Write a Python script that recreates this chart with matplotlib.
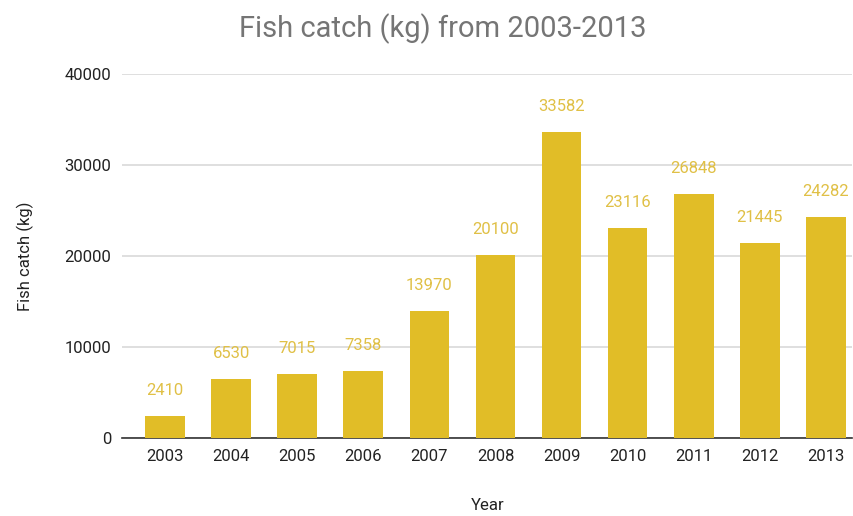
import matplotlib
matplotlib.use("Agg")
import matplotlib.pyplot as plt

years = ["2003", "2004", "2005", "2006", "2007", "2008", "2009", "2010", "2011", "2012", "2013"]
catch = [2410, 6530, 7015, 7358, 13970, 20100, 33582, 23116, 26848, 21445, 24282]
yticks = [0, 10000, 20000, 30000, 40000]

plt.rcParams['font.family'] = ['Roboto', 'DejaVu Sans']

fig = plt.figure(figsize=(8.54, 5.16), dpi=100)
ax = fig.add_axes([0.143, 0.151, 0.855, 0.706])

x = list(range(len(years)))
bar_color = "#E1BD27"
label_color = "#E0C046"
ax.bar(x, catch, width=0.6, color=bar_color, zorder=3)
for xi, v in zip(x, catch):
    ax.annotate(str(v), (xi, v), xytext=(0, 13), textcoords="offset points",
                ha="center", va="bottom", fontsize=12, color=label_color)

ax.set_ylim(0, 40000)
ax.set_xlim(-0.65, 10.4)
ax.set_yticks(yticks)
ax.set_yticklabels([str(t) for t in yticks])
ax.set_xticks(x)
ax.set_xticklabels(years)
ax.tick_params(axis="both", length=0, labelsize=12, labelcolor="#222222")
ax.tick_params(axis="x", pad=8)
ax.tick_params(axis="y", pad=8)
ax.grid(axis="y", color="#d9d9d9", linewidth=1.2, zorder=0)
for s in ["top", "right", "left"]:
    ax.spines[s].set_visible(False)
ax.spines["bottom"].set_color("#333333")
ax.spines["bottom"].set_linewidth(1.2)

ax.set_xlabel("Year", fontsize=12, color="#222222", labelpad=24)
ax.set_ylabel("Fish catch (kg)", fontsize=12, color="#222222", labelpad=22)
fig.text(0.518, 0.945, "Fish catch (kg) from 2003-2013", ha="center", va="center",
         fontsize=21, color="#757575")

fig.savefig("out.png", dpi=100)
